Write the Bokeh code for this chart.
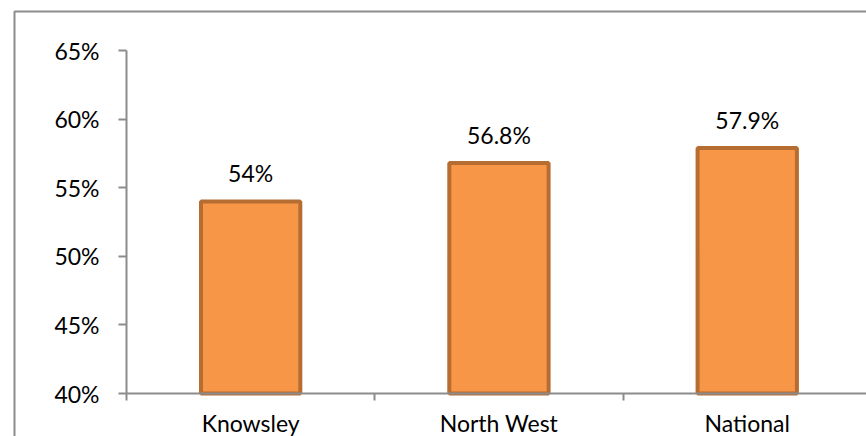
from bokeh.plotting import figure
from bokeh.models import Range1d, FixedTicker, PrintfTickFormatter, PolyAnnotation
from bokeh.core.properties import value
from bokeh.embed import file_html
from bokeh.resources import INLINE

# Share of residents (%), by area
categories = ["Knowsley", "North West", "National"]
shares = [54, 56.8, 57.9]
y_ticks = [40, 45, 50, 55, 60, 65]

# Page geometry (pixels)
W, H = 866, 436
AXIS_X = 126          # y-axis position from the left edge
CAT_PX = 248.3        # width of one category slot
Y_TOP_PX, Y_BOT_PX = 50, 393   # pixel rows of the top and bottom y ticks
BORDER_X, BORDER_Y = 14, 11    # chart-area border corner

y_lo, y_hi = y_ticks[0], y_ticks[-1]
px_per_unit = (Y_BOT_PX - Y_TOP_PX) / (y_hi - y_lo)

x_start = -AXIS_X / CAT_PX
x_end = (W - AXIS_X) / CAT_PX
y_end = y_hi + Y_TOP_PX / px_per_unit
y_start = y_lo - (H - Y_BOT_PX) / px_per_unit

FONT = "Lato"
GREY = "#8c8c8c"

p = figure(width=W, height=H,
           x_range=Range1d(x_start, x_end), y_range=Range1d(y_start, y_end),
           output_backend="svg", toolbar_location=None,
           min_border=0, min_border_left=0, min_border_right=0,
           min_border_top=0, min_border_bottom=0)
p.grid.visible = False
p.outline_line_color = None
p.background_fill_color = "white"
p.border_fill_color = "white"

centers = [i + 0.5 for i in range(len(categories))]
bounds = list(range(len(categories) + 1))

# bars
p.vbar(x=centers, top=shares, bottom=y_lo, width=0.4,
       fill_color="#F79646", line_color="#B66D31", line_width=4)

# value labels above the bars
labels = [f"{v:g}%" for v in shares]
p.text(x=centers, y=shares, text=labels, text_align="center",
       text_baseline="bottom", y_offset=-14,
       text_font=value(FONT), text_font_size="23px", text_color="#000000")

# y axis
yax = p.yaxis[0]
yax.fixed_location = 0
yax.bounds = (y_lo, y_hi)
yax.ticker = FixedTicker(ticks=y_ticks)
yax.formatter = PrintfTickFormatter(format="%d%%")
yax.major_tick_out = 8
yax.major_tick_in = 0
yax.minor_tick_out = 0
yax.minor_tick_in = 0
yax.axis_line_color = GREY
yax.axis_line_width = 2
yax.major_tick_line_color = GREY
yax.major_tick_line_width = 2
yax.major_label_standoff = 19
yax.major_label_text_font = FONT
yax.major_label_text_font_size = "23px"
yax.major_label_text_color = "#000000"

# category axis: labels at slot centres, tick marks between slots
xax = p.xaxis[0]
xax.fixed_location = y_lo
xax.bounds = (bounds[0], x_end)
xax.ticker = FixedTicker(ticks=centers, minor_ticks=bounds[:-1])
xax.major_label_overrides = {c: name for c, name in zip(centers, categories)}
xax.major_tick_out = 0
xax.major_tick_in = 0
xax.minor_tick_out = 7
xax.minor_tick_in = 0
xax.axis_line_color = GREY
xax.axis_line_width = 2
xax.minor_tick_line_color = GREY
xax.minor_tick_line_width = 2
xax.major_label_standoff = 8
xax.major_label_text_font = FONT
xax.major_label_text_font_size = "23px"
xax.major_label_text_color = "#000000"

# chart-area border: only its left and top edges fall inside the page
bx = (BORDER_X - AXIS_X) / CAT_PX
by = y_hi + (Y_TOP_PX - BORDER_Y) / px_per_unit
far_x = x_end + 1
far_y = y_start - 10
p.add_layout(PolyAnnotation(xs=[bx, bx, far_x, far_x], ys=[far_y, by, by, far_y],
                            fill_alpha=0, line_color=GREY, line_alpha=1,
                            line_width=2))

open("out.html", "w").write(file_html(p, INLINE))
